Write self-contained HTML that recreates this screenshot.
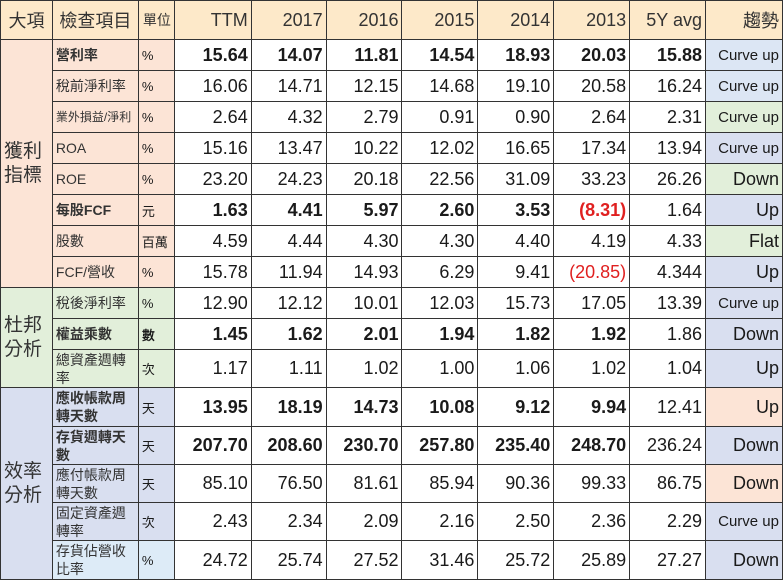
<!DOCTYPE html>
<html><head><meta charset="utf-8">
<style>
body{margin:0;background:#fff;width:783px;height:582px;overflow:hidden}
table{border-collapse:collapse;table-layout:fixed;font-family:"Liberation Sans","Noto Sans CJK TC",sans-serif;position:absolute;left:0;top:0}
td{border:1px solid #333;padding:0 3px;overflow:hidden;white-space:nowrap;color:#1a1a1a}
.n{text-align:right;font-size:18px;background:#fff}
.b{font-weight:bold}
.r{color:#e02020}
.h{background:#fde9c9;font-size:18px;text-align:right;color:#333}
.hc{text-align:center}
.l{font-size:14px;white-space:normal;line-height:18px;padding:0 3px;color:#333}
.u{font-size:13px;padding:0 3px}
.cat{font-size:19px;line-height:24px;text-align:left;white-space:normal;padding:0 3px;color:#333}
.pk{background:#fce4d6}.gr{background:#e2efda}.lv{background:#d9dff0}.lb{background:#dce6f4}.lb2{background:#ddebf7}
.t{text-align:right;font-size:18px}
.tc{text-align:right;font-size:15px}
</style></head><body>
<table>
<colgroup><col style="width:52px"><col style="width:86px"><col style="width:36px"><col style="width:77px"><col style="width:75px"><col style="width:76px"><col style="width:76px"><col style="width:76px"><col style="width:76px"><col style="width:76px"><col style="width:77px"></colgroup>
<tr style="height:39px"><td class="h hc">大項</td><td class="h hc">檢查項目</td><td class="h u" style="font-size:14px">單位</td><td class="h">TTM</td><td class="h">2017</td><td class="h">2016</td><td class="h">2015</td><td class="h">2014</td><td class="h">2013</td><td class="h">5Y avg</td><td class="h">趨勢</td></tr>
<tr style="height:31px"><td class="pk cat" rowspan="8">獲利<br>指標</td><td class="pk l b">營利率</td><td class="pk u">%</td><td class="n b">15.64</td><td class="n b">14.07</td><td class="n b">11.81</td><td class="n b">14.54</td><td class="n b">18.93</td><td class="n b">20.03</td><td class="n b">15.88</td><td class="lb tc">Curve up</td></tr>
<tr style="height:31px"><td class="pk l">稅前淨利率</td><td class="pk u">%</td><td class="n">16.06</td><td class="n">14.71</td><td class="n">12.15</td><td class="n">14.68</td><td class="n">19.10</td><td class="n">20.58</td><td class="n">16.24</td><td class="lb tc">Curve up</td></tr>
<tr style="height:31px"><td class="pk l" style="font-size:12px">業外損益/淨利</td><td class="pk u">%</td><td class="n">2.64</td><td class="n">4.32</td><td class="n">2.79</td><td class="n">0.91</td><td class="n">0.90</td><td class="n">2.64</td><td class="n">2.31</td><td class="gr tc">Curve up</td></tr>
<tr style="height:31px"><td class="pk l">ROA</td><td class="pk u">%</td><td class="n">15.16</td><td class="n">13.47</td><td class="n">10.22</td><td class="n">12.02</td><td class="n">16.65</td><td class="n">17.34</td><td class="n">13.94</td><td class="lv tc">Curve up</td></tr>
<tr style="height:31px"><td class="pk l">ROE</td><td class="pk u">%</td><td class="n">23.20</td><td class="n">24.23</td><td class="n">20.18</td><td class="n">22.56</td><td class="n">31.09</td><td class="n">33.23</td><td class="n">26.26</td><td class="gr t">Down</td></tr>
<tr style="height:31px"><td class="pk l b">每股FCF</td><td class="pk u">元</td><td class="n b">1.63</td><td class="n b">4.41</td><td class="n b">5.97</td><td class="n b">2.60</td><td class="n b">3.53</td><td class="n b r">(8.31)</td><td class="n">1.64</td><td class="lv t">Up</td></tr>
<tr style="height:31px"><td class="pk l">股數</td><td class="pk u">百萬</td><td class="n">4.59</td><td class="n">4.44</td><td class="n">4.30</td><td class="n">4.30</td><td class="n">4.40</td><td class="n">4.19</td><td class="n">4.33</td><td class="gr t">Flat</td></tr>
<tr style="height:31px"><td class="pk l">FCF/營收</td><td class="pk u">%</td><td class="n">15.78</td><td class="n">11.94</td><td class="n">14.93</td><td class="n">6.29</td><td class="n">9.41</td><td class="n r">(20.85)</td><td class="n">4.344</td><td class="lv t">Up</td></tr>
<tr style="height:31px"><td class="gr cat" rowspan="3">杜邦<br>分析</td><td class="gr l">稅後淨利率</td><td class="gr u">%</td><td class="n">12.90</td><td class="n">12.12</td><td class="n">10.01</td><td class="n">12.03</td><td class="n">15.73</td><td class="n">17.05</td><td class="n">13.39</td><td class="lv tc">Curve up</td></tr>
<tr style="height:31px"><td class="gr l b">權益乘數</td><td class="gr u b">數</td><td class="n b">1.45</td><td class="n b">1.62</td><td class="n b">2.01</td><td class="n b">1.94</td><td class="n b">1.82</td><td class="n b">1.92</td><td class="n">1.86</td><td class="lv t">Down</td></tr>
<tr style="height:38px"><td class="gr l">總資產週轉率</td><td class="gr u">次</td><td class="n">1.17</td><td class="n">1.11</td><td class="n">1.02</td><td class="n">1.00</td><td class="n">1.06</td><td class="n">1.02</td><td class="n">1.04</td><td class="lv t">Up</td></tr>
<tr style="height:39px"><td class="lv cat" rowspan="5">效率<br>分析</td><td class="lv l b">應收帳款周轉天數</td><td class="lv u">天</td><td class="n b">13.95</td><td class="n b">18.19</td><td class="n b">14.73</td><td class="n b">10.08</td><td class="n b">9.12</td><td class="n b">9.94</td><td class="n">12.41</td><td class="pk t">Up</td></tr>
<tr style="height:38px"><td class="lv l b">存貨週轉天數</td><td class="lv u">天</td><td class="n b">207.70</td><td class="n b">208.60</td><td class="n b">230.70</td><td class="n b">257.80</td><td class="n b">235.40</td><td class="n b">248.70</td><td class="n">236.24</td><td class="lv t">Down</td></tr>
<tr style="height:38px"><td class="lv l">應付帳款周轉天數</td><td class="lv u">天</td><td class="n">85.10</td><td class="n">76.50</td><td class="n">81.61</td><td class="n">85.94</td><td class="n">90.36</td><td class="n">99.33</td><td class="n">86.75</td><td class="pk t">Down</td></tr>
<tr style="height:38px"><td class="lv l">固定資產週轉率</td><td class="lv u">次</td><td class="n">2.43</td><td class="n">2.34</td><td class="n">2.09</td><td class="n">2.16</td><td class="n">2.50</td><td class="n">2.36</td><td class="n">2.29</td><td class="lv tc">Curve up</td></tr>
<tr style="height:39px"><td class="lb2 l">存貨佔營收比率</td><td class="lb2 u">%</td><td class="n">24.72</td><td class="n">25.74</td><td class="n">27.52</td><td class="n">31.46</td><td class="n">25.72</td><td class="n">25.89</td><td class="n">27.27</td><td class="lv t">Down</td></tr>
</table>
</body></html>
